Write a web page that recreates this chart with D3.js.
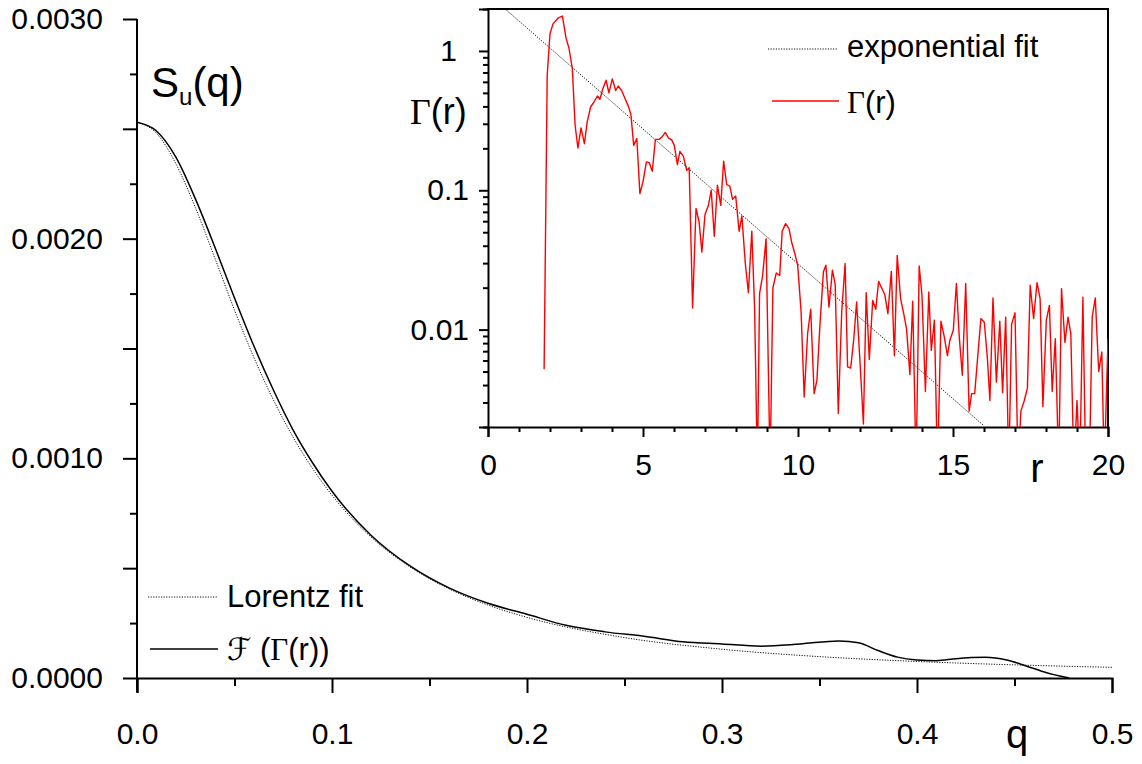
<!DOCTYPE html>
<html>
<head>
<meta charset="utf-8">
<script src="https://cdn.jsdelivr.net/npm/d3@7"></script>
<style>
  body { margin: 0; background: #fff; }
  svg { display: block; }
  text { font-family: Arial, "Liberation Sans", sans-serif; fill: #000; }
  .serif { font-family: "Liberation Serif", "Times New Roman", serif; }
</style>
</head>
<body>
<svg id="chart" width="1142" height="764"></svg>
<script>
// ---- Main panel: structure factor S_u(q) ----
const qValues = [0, 0.01, 0.02, 0.03, 0.04, 0.05, 0.06, 0.07, 0.08, 0.09, 0.10, 0.12, 0.14, 0.16, 0.18, 0.20,
  0.22, 0.24, 0.26, 0.28, 0.30, 0.32, 0.34, 0.36, 0.37, 0.38, 0.39, 0.40, 0.41, 0.42, 0.435, 0.446, 0.456, 0.4665, 0.478];
const transformValues = [0.00253, 0.00249, 0.00237, 0.00218, 0.00196, 0.00173, 0.00151, 0.00131, 0.00113, 0.00098,
  0.00085, 0.00065, 0.00051, 0.00041, 0.00034, 0.00029, 0.00024, 0.00021, 0.00019, 0.000165, 0.000155, 0.000145,
  0.000155, 0.000169, 0.00016, 0.000125, 0.000095, 0.000082, 0.000079, 0.000088, 0.000094, 0.000082, 0.000055,
  0.000024, 0.0];

const lorentzQ = [0, 0.01, 0.02, 0.03, 0.04, 0.05, 0.06, 0.07, 0.08, 0.09, 0.10, 0.12, 0.14, 0.16, 0.18, 0.20,
  0.25, 0.30, 0.35, 0.40, 0.45, 0.50];
const lorentzValues = [0.00253, 0.00248, 0.00234, 0.00214, 0.00191, 0.001675, 0.001458, 0.001265, 0.001097,
  0.000954, 0.000832, 0.000642, 0.000506, 0.000406, 0.000332, 0.000276, 0.000184, 0.000131, 0.0000973,
  0.0000752, 0.0000598, 0.0000486];

const mainXTickLabels = ["0.0", "0.1", "0.2", "0.3", "0.4", "0.5"];
const mainYTickLabels = ["0.0000", "0.0010", "0.0020", "0.0030"];

// ---- Inset: Γ(r) on a log scale ----
const rValues = [1.81, 1.91, 2.0, 2.1, 2.27, 2.4, 2.52, 2.61, 2.72, 2.81, 2.9, 3.0, 3.11, 3.2, 3.31, 3.42, 3.53,
  3.61, 3.71, 3.81, 3.9, 4.01, 4.12, 4.2, 4.31, 4.42, 4.53, 4.61, 4.7, 4.8, 4.9, 5.0, 5.11, 5.2, 5.3, 5.4, 5.52,
  5.61, 5.72, 5.82, 5.93, 6.01, 6.11, 6.19, 6.3, 6.41, 6.49, 6.6, 6.71, 6.81, 6.9, 7.0, 7.11, 7.2, 7.3, 7.4, 7.51,
  7.6, 7.7, 7.8, 7.89, 7.99, 8.1, 8.19, 8.3, 8.4, 8.51, 8.6, 8.69, 8.76, 8.86, 8.97, 9.1, 9.19, 9.3, 9.41, 9.49,
  9.6, 9.71, 9.8, 9.9, 9.99, 10.1, 10.2, 10.31, 10.41, 10.52, 10.61, 10.71, 10.82, 10.9, 11.0, 11.11, 11.2, 11.3,
  11.41, 11.52, 11.6, 11.7, 11.8, 11.89, 12.0, 12.11, 12.2, 12.3, 12.41, 12.51, 12.6, 12.7, 12.8, 12.9, 13.01,
  13.11, 13.2, 13.31, 13.41, 13.5, 13.61, 13.7, 13.81, 13.91, 14.0, 14.11, 14.22, 14.3, 14.4, 14.5, 14.61, 14.71,
  14.82, 14.9, 15.01, 15.11, 15.2, 15.3, 15.41, 15.52, 15.6, 15.7, 15.8, 15.9, 16.01, 16.11, 16.19, 16.29, 16.4,
  16.51, 16.6, 16.7, 16.8, 16.89, 17.0, 17.1, 17.19, 17.3, 17.4, 17.49, 17.6, 17.71, 17.81, 17.9, 18.01, 18.11,
  18.2, 18.3, 18.41, 18.5, 18.61, 18.71, 18.8, 18.9, 19.0, 19.09, 19.19, 19.28, 19.4, 19.49, 19.59, 19.7, 19.8,
  19.88, 20.0];
// values below the axis floor (0.002) dip out of the frame and are clipped
const gammaValues = [0.0052, 0.67, 1.33, 1.57, 1.73, 1.78, 1.23, 1.05, 0.75, 0.293, 0.201, 0.28, 0.216, 0.31,
  0.396, 0.43, 0.475, 0.45, 0.54, 0.616, 0.50, 0.63, 0.52, 0.56, 0.52, 0.455, 0.40, 0.35, 0.21, 0.235, 0.0947,
  0.115, 0.16, 0.158, 0.137, 0.232, 0.232, 0.241, 0.26, 0.238, 0.229, 0.21, 0.153, 0.19, 0.176, 0.139, 0.145,
  0.0143, 0.074, 0.0593, 0.036, 0.067, 0.078, 0.1, 0.0468, 0.1086, 0.078, 0.162, 0.11, 0.107, 0.086, 0.091,
  0.0508, 0.0654, 0.0298, 0.0184, 0.0508, 0.0143, 0.001, 0.0181, 0.0245, 0.045, 0.001, 0.0199, 0.0255, 0.0245,
  0.0508, 0.0576, 0.053, 0.042, 0.035, 0.029, 0.0134, 0.00328, 0.00935, 0.014, 0.00347, 0.00432, 0.011, 0.026,
  0.029, 0.0145, 0.0267, 0.021, 0.0025, 0.0134, 0.0298, 0.0054, 0.0053, 0.0086, 0.0158, 0.00585, 0.0021, 0.0184,
  0.0061, 0.0162, 0.014, 0.0222, 0.0199, 0.0178, 0.013, 0.0262, 0.0065, 0.0341, 0.0167, 0.013, 0.0102, 0.00475,
  0.016, 0.001, 0.0286, 0.0176, 0.0036, 0.0186, 0.0071, 0.0117, 0.001, 0.0115, 0.0091, 0.0065, 0.0084, 0.0099,
  0.0214, 0.009, 0.0047, 0.0214, 0.0026, 0.00347, 0.00347, 0.0065, 0.012, 0.0113, 0.0062, 0.0031, 0.0169, 0.0042,
  0.0115, 0.00353, 0.0123, 0.001, 0.0109, 0.0132, 0.001, 0.0026, 0.0031, 0.0038, 0.0208, 0.012, 0.0217, 0.0167,
  0.0028, 0.0117, 0.0149, 0.0036, 0.0086, 0.001, 0.0197, 0.0081, 0.0123, 0.0094, 0.001, 0.0031, 0.001, 0.0171,
  0.001, 0.001, 0.0123, 0.0169, 0.005, 0.0069, 0.001, 0.0086];

const fitR = [0, 16];
const fitValues = [2.56, 0.00204];

const insetXTickLabels = ["0", "5", "10", "15", "20"];
const insetYTickLabels = ["0.01", "0.1", "1"];

// ---------------------------------------------------------------
const svg = d3.select("#chart");
const black = "#000";

// Main scales
const x = d3.scaleLinear().domain([0, 0.5]).range([137, 1112]);
const y = d3.scaleLinear().domain([0, 0.003]).range([678, 19]);

// Main x axis: majors every 0.1 with labels, minors every 0.05
const xTicks = d3.range(0, 11).map(i => i * 0.05);
const xAxis = d3.axisBottom(x)
  .tickValues(xTicks)
  .tickSizeOuter(0)
  .tickSize(15)
  .tickPadding(30)
  .tickFormat(d => {
    const i = Math.round(d / 0.1 * 1000) / 1000;
    return Number.isInteger(i) ? mainXTickLabels[i] : "";
  });
const gx = svg.append("g").attr("transform", "translate(0,678)").call(xAxis);
gx.selectAll(".tick line").attr("y2", d => Number.isInteger(Math.round(d * 1000) / 100) ? 15 : 8);

// Main y axis: majors every 0.0005, minors every 0.00025, labels every 0.001
const yTicks = d3.range(0, 13).map(i => i * 0.00025);
const yAxis = d3.axisLeft(y)
  .tickValues(yTicks)
  .tickSizeOuter(0)
  .tickSize(14)
  .tickPadding(20)
  .tickFormat(d => {
    const k = Math.round(d / 0.00025);
    return k % 4 === 0 ? mainYTickLabels[k / 4] : "";
  });
const gy = svg.append("g").attr("transform", "translate(137,0)").call(yAxis);
gy.selectAll(".tick line").attr("x2", d => Math.round(d / 0.00025) % 2 === 0 ? -14 : -7);

[gx, gy].forEach(g => {
  g.select(".domain").attr("stroke", black).attr("stroke-width", 2);
  g.selectAll(".tick line").attr("stroke", black).attr("stroke-width", 2);
  g.selectAll(".tick text").attr("font-size", 30).attr("font-family", "Arial, 'Liberation Sans', sans-serif").attr("fill", black);
});
// 0.0 tick continues the y axis downward
gy.select(".domain").attr("d", "M0,19V692");

// Main curves
const mainClip = svg.append("clipPath").attr("id", "mainClip")
  .append("rect").attr("x", 137).attr("y", 0).attr("width", 980).attr("height", 678);

const lineMain = d3.line().x(d => x(d[0])).y(d => y(d[1])).curve(d3.curveMonotoneX);

svg.append("path")
  .datum(lorentzQ.map((q, i) => [q, lorentzValues[i]]))
  .attr("d", lineMain)
  .attr("fill", "none")
  .attr("stroke", "#111")
  .attr("stroke-width", 1)
  .attr("stroke-dasharray", "1.2,1.4")
  .attr("clip-path", "url(#mainClip)");

svg.append("path")
  .datum(qValues.map((q, i) => [q, transformValues[i]]))
  .attr("d", lineMain)
  .attr("fill", "none")
  .attr("stroke", black)
  .attr("stroke-width", 1.5)
  .attr("clip-path", "url(#mainClip)");

// Main labels
const su = svg.append("text").attr("x", 151).attr("y", 97).attr("font-size", 42);
su.append("tspan").text("S");
su.append("tspan").attr("font-size", 24).attr("dy", 8).text("u");
su.append("tspan").attr("dy", -8).text("(q)");

svg.append("text").attr("x", 1017).attr("y", 748).attr("text-anchor", "middle").attr("font-size", 40).text("q");

// Main legend
svg.append("line").attr("x1", 148).attr("x2", 217).attr("y1", 597).attr("y2", 597)
  .attr("stroke", "#111").attr("stroke-width", 1).attr("stroke-dasharray", "1.2,1.4");
svg.append("text").attr("x", 227).attr("y", 607).attr("font-size", 31).text("Lorentz fit");
svg.append("line").attr("x1", 150).attr("x2", 218).attr("y1", 649).attr("y2", 649)
  .attr("stroke", black).attr("stroke-width", 1.5);
const fLabel = svg.append("text").attr("x", 227).attr("y", 660).attr("font-size", 31);
fLabel.append("tspan").attr("font-family", "'DejaVu Serif', 'DejaVu Sans', serif").text("\u2131");
fLabel.append("tspan").text(" (");
fLabel.append("tspan").attr("class", "serif").text("\u0393");
fLabel.append("tspan").text("(r))");

// ---- Inset ----
const ix = d3.scaleLinear().domain([0, 20]).range([488, 1108]);
const iy = d3.scaleLog().domain([0.002, 2]).range([427, 9]);

const ixTicks = d3.range(0, 21);
const ixAxis = d3.axisBottom(ix)
  .tickValues(ixTicks)
  .tickSizeOuter(0)
  .tickSize(10)
  .tickPadding(17)
  .tickFormat(d => d % 5 === 0 ? insetXTickLabels[d / 5] : "");
const gix = svg.append("g").attr("transform", "translate(0,427)").call(ixAxis);
gix.selectAll(".tick line").attr("y2", d => d % 5 === 0 ? 10 : 5);

const decadeTicks = [0.01, 0.1, 1];
const iyTicks = [];
[0.001, 0.01, 0.1, 1].forEach(dec => {
  for (let k = 1; k <= 9; k++) {
    const v = +(k * dec).toPrecision(3);
    if (v >= 0.002 && v <= 2) iyTicks.push(v);
  }
});
const iyAxis = d3.axisLeft(iy)
  .tickValues(iyTicks)
  .tickSizeOuter(0)
  .tickSize(9)
  .tickPadding(10)
  .tickFormat(d => {
    const i = decadeTicks.findIndex(t => Math.abs(t - d) < 1e-9);
    return i >= 0 ? insetYTickLabels[i] : "";
  });
const giy = svg.append("g").attr("transform", "translate(488,0)").call(iyAxis);
giy.selectAll(".tick line").attr("x2", d => decadeTicks.some(t => Math.abs(t - d) < 1e-9) ? -9 : -5);

[gix, giy].forEach(g => {
  g.select(".domain").attr("stroke", black).attr("stroke-width", 2);
  g.selectAll(".tick line").attr("stroke", black).attr("stroke-width", 2);
  g.selectAll(".tick text").attr("font-size", 30).attr("font-family", "Arial, 'Liberation Sans', sans-serif").attr("fill", black);
});
// the lone "1" label sits a little left of the others
giy.selectAll(".tick text").filter(d => Math.abs(d - 1) < 1e-9).attr("dx", -12);

// frame: top and right edges
svg.append("path").attr("d", "M487,9H1108V427").attr("fill", "none").attr("stroke", black).attr("stroke-width", 2);

const insetClip = svg.append("clipPath").attr("id", "insetClip")
  .append("rect").attr("x", 488).attr("y", 9).attr("width", 620).attr("height", 418);

const lineInset = d3.line().x(d => ix(d[0])).y(d => iy(d[1]));

svg.append("path")
  .datum(fitR.map((r, i) => [r, fitValues[i]]))
  .attr("d", lineInset)
  .attr("fill", "none")
  .attr("stroke", "#111")
  .attr("stroke-width", 1)
  .attr("stroke-dasharray", "1.2,1.4")
  .attr("clip-path", "url(#insetClip)");

svg.append("path")
  .datum(rValues.map((r, i) => [r, gammaValues[i]]))
  .attr("d", lineInset)
  .attr("fill", "none")
  .attr("stroke", "#ff0000")
  .attr("stroke-width", 1.4)
  .attr("stroke-linejoin", "round")
  .attr("clip-path", "url(#insetClip)");

// inset labels
const gLabel = svg.append("text").attr("x", 410).attr("y", 124).attr("font-size", 36);
gLabel.append("tspan").attr("class", "serif").text("\u0393");
gLabel.append("tspan").text("(r)");

svg.append("text").attr("x", 1037).attr("y", 482).attr("text-anchor", "middle").attr("font-size", 40).text("r");

// inset legend
svg.append("line").attr("x1", 768).attr("x2", 837).attr("y1", 49).attr("y2", 49)
  .attr("stroke", "#111").attr("stroke-width", 1).attr("stroke-dasharray", "1.2,1.4");
svg.append("text").attr("x", 847).attr("y", 57).attr("font-size", 31).text("exponential fit");
svg.append("line").attr("x1", 772).attr("x2", 839).attr("y1", 101).attr("y2", 101)
  .attr("stroke", "#ff0000").attr("stroke-width", 1.4);
const gLeg = svg.append("text").attr("x", 847).attr("y", 113).attr("font-size", 31);
gLeg.append("tspan").attr("class", "serif").text("\u0393");
gLeg.append("tspan").text("(r)");
</script>
</body>
</html>
